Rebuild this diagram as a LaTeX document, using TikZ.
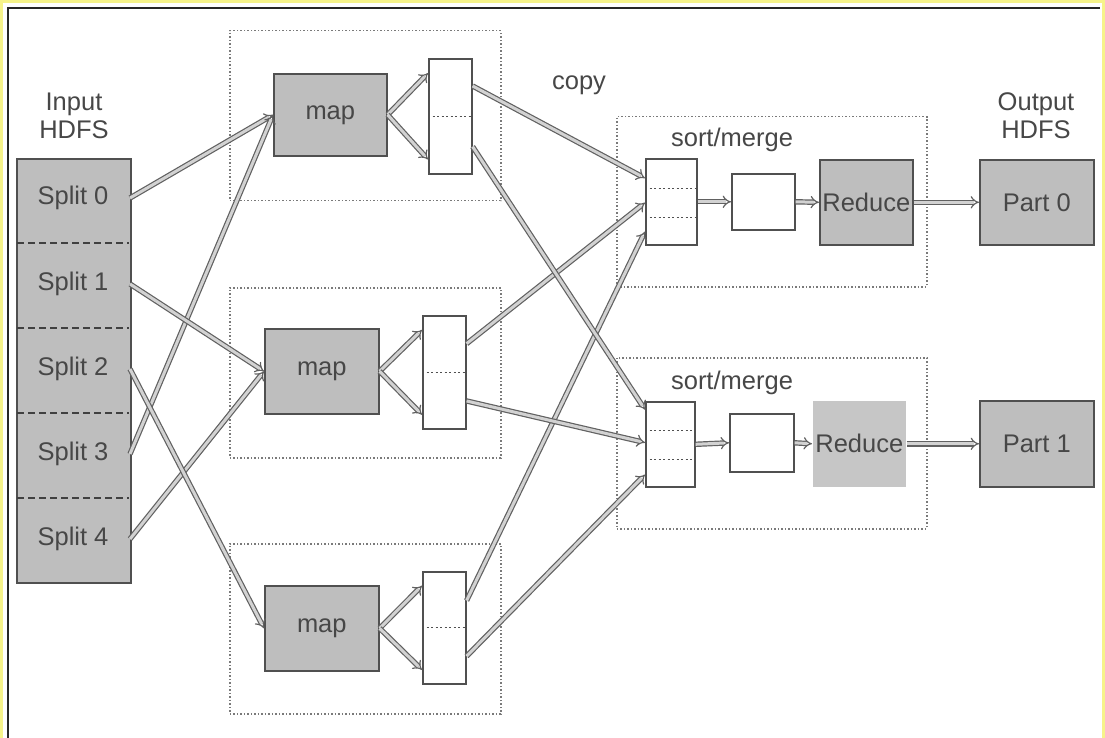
\documentclass[tikz,border=0pt]{standalone}
\usepackage{fontspec}
\setmainfont{Liberation Sans}
\usetikzlibrary{arrows.meta,calc}
\definecolor{txt}{HTML}{474747}
\definecolor{bord}{HTML}{505050}
\definecolor{boxfill}{HTML}{BEBEBE}
\definecolor{boxfillb}{HTML}{C6C6C6}
\definecolor{dotc}{HTML}{7A7A7A}
\definecolor{arrfill}{HTML}{D2D2D2}
\definecolor{frameyel}{HTML}{F6F38A}
\begin{document}
\begin{tikzpicture}[x=1pt,y=-1pt,
  font=\fontsize{25.5}{28}\selectfont, text=txt,
  graybox/.style={draw=bord, line width=1.6pt, fill=boxfill, inner sep=0pt, anchor=north west},
  whitebox/.style={draw=bord, line width=1.6pt, fill=white, inner sep=0pt, anchor=north west},
  container/.style={draw=dotc, line width=1.5pt, dash pattern=on 1.5pt off 2pt, inner sep=0pt, anchor=north west},
  label/.style={inner sep=0pt, align=center},
  splitsep/.style={draw=bord!80!black, line width=2pt, dash pattern=on 7pt off 4pt},
  divider/.style={draw=bord, line width=1.2pt, dash pattern=on 2pt off 2.5pt},
  arr/.style={draw=bord!90, line width=1.2pt, double=arrfill, double distance=3pt, -{Implies}},
  ]
\useasboundingbox (0,0) rectangle (1105,738);
% frame
\fill[frameyel] (0,0) rectangle (1105,738);
\fill[white] (3,3) rectangle (1102,738);
\draw[black!85, line width=1.6pt] (8,738) -- (8,8) -- (1100,8);

% containers
\node[container, minimum width=271pt, minimum height=170pt] (c0) at (229,30) {};
\node[container, minimum width=271pt, minimum height=170pt] (c1) at (229,287) {};
\node[container, minimum width=271pt, minimum height=170pt] (c2) at (229,543) {};
\node[container, minimum width=310pt, minimum height=170pt] (c3) at (616,116) {};
\node[container, minimum width=310pt, minimum height=171pt] (c4) at (616,357) {};

% labels
\node[label] (inlab) at (74,116) {Input\\HDFS};
\node[label] (outlab) at (1036,116) {Output\\HDFS};
\node[label] (copylab) at (579,85) {copy};
\node[label] (sm0) at (732,140) {sort/merge};
\node[label] (sm1) at (732,383) {sort/merge};

% splits
\node[graybox, minimum width=114pt, minimum height=424pt] (splits) at (16,158) {};
\node[label] (s0) at (73,198) {Split 0};
\node[label] (s1) at (73,284) {Split 1};
\node[label] (s2) at (73,369) {Split 2};
\node[label] (s3) at (73,454) {Split 3};
\node[label] (s4) at (73,539) {Split 4};
\draw[splitsep] (17,243) -- (129,243);
\draw[splitsep] (17,328) -- (129,328);
\draw[splitsep] (17,413) -- (129,413);
\draw[splitsep] (17,498) -- (129,498);
\coordinate (s0e) at (130,198);
\coordinate (s1e) at (130,284);
\coordinate (s2e) at (130,369);
\coordinate (s3e) at (130,454);
\coordinate (s4e) at (130,539);

% maps
\node[graybox, minimum width=113pt, minimum height=82pt] (m0) at (273,73) {map};
\node[graybox, minimum width=114pt, minimum height=85pt] (m1) at (264,328) {map};
\node[graybox, minimum width=114pt, minimum height=85pt] (m2) at (264,585) {map};

% partitions
\node[whitebox, minimum width=43pt, minimum height=115pt] (p0) at (428,58) {};
\node[whitebox, minimum width=43pt, minimum height=113pt] (p1) at (422,315) {};
\node[whitebox, minimum width=43pt, minimum height=112pt] (p2) at (422,571) {};
\foreach \p in {p0,p1,p2} \draw[divider] (\p.west) -- (\p.east);

% sort boxes
\node[whitebox, minimum width=51pt, minimum height=86pt] (r0) at (645,158) {};
\node[whitebox, minimum width=49pt, minimum height=85pt] (r1) at (645,401) {};
\foreach \r in {r0,r1} {
  \draw[divider] ($(\r.north west)!0.345!(\r.south west)$) -- ($(\r.north east)!0.345!(\r.south east)$);
  \draw[divider] ($(\r.north west)!0.675!(\r.south west)$) -- ($(\r.north east)!0.675!(\r.south east)$);
}

% mid white boxes
\node[whitebox, minimum width=63pt, minimum height=56pt] (w0) at (731,173) {};
\node[whitebox, minimum width=64pt, minimum height=58pt] (w1) at (729,413) {};

% reduce
\node[graybox, minimum width=93pt, minimum height=85pt] (d0) at (819,159) {Reduce};
\node[graybox, draw=none, fill=boxfillb, minimum width=93pt, minimum height=86pt] (d1) at (812,400) {Reduce};

% parts
\node[graybox, minimum width=114pt, minimum height=85pt] (o0) at (979,159) {Part 0};
\node[graybox, minimum width=114pt, minimum height=86pt] (o1) at (979,400) {Part 1};

% input arrows
\draw[arr] (s0e) -- (m0.west);
\draw[arr] (s3e) -- (m0.west);
\draw[arr] (s1e) -- (m1.west);
\draw[arr] (s4e) -- (m1.west);
\draw[arr] (s2e) -- (m2.west);

% map to partitions
\foreach \m/\p in {m0/p0,m1/p1,m2/p2} {
  \draw[arr] (\m.east) -- ($(\p.north west)!0.13!(\p.south west)$);
  \draw[arr] (\m.east) -- ($(\p.north west)!0.87!(\p.south west)$);
}

% copy arrows
\draw[arr] ($(p0.north east)!0.24!(p0.south east)$) -- ($(r0.north west)!0.23!(r0.south west)$);
\draw[arr] ($(p1.north east)!0.25!(p1.south east)$) -- ($(r0.north west)!0.51!(r0.south west)$);
\draw[arr] ($(p2.north east)!0.26!(p2.south east)$) -- ($(r0.north west)!0.84!(r0.south west)$);
\draw[arr] ($(p0.north east)!0.76!(p0.south east)$) -- ($(r1.north west)!0.10!(r1.south west)$);
\draw[arr] ($(p1.north east)!0.75!(p1.south east)$) -- ($(r1.north west)!0.48!(r1.south west)$);
\draw[arr] ($(p2.north east)!0.75!(p2.south east)$) -- ($(r1.north west)!0.85!(r1.south west)$);

% reduce chain
\draw[arr] (r0.east) -- (w0.west);
\draw[arr] (w0.east) -- (d0.west);
\draw[arr] (d0.east) -- (o0.west);
\draw[arr] (r1.east) -- (w1.west);
\draw[arr] (w1.east) -- (d1.west);
\draw[arr] (d1.east) -- (o1.west);
\end{tikzpicture}
\end{document}
